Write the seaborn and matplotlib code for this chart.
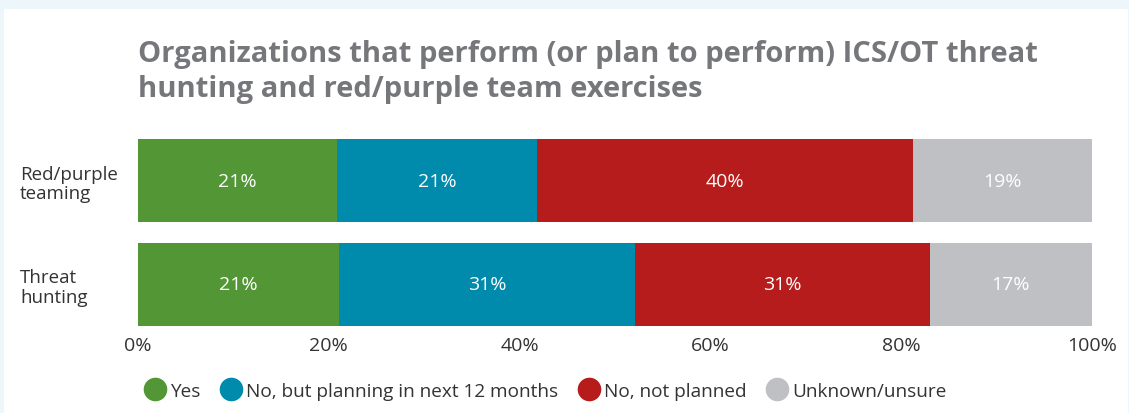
import numpy as np
import pandas as pd
import matplotlib
matplotlib.use('Agg')
import matplotlib.pyplot as plt
from matplotlib.patches import Rectangle
from matplotlib.lines import Line2D
import seaborn as sns

# Data (segment widths in %, printed labels)
categories = ['Red/purple\nteaming', 'Threat\nhunting']
responses = ['Yes', 'No, but planning in next 12 months', 'No, not planned', 'Unknown/unsure']
yes = [20.9, 21.1]
planning = [20.9, 31.0]
not_planned = [39.4, 30.9]
unknown = [18.8, 17.0]
labels = [['21%', '21%', '40%', '19%'],
          ['21%', '31%', '31%', '17%']]
colors = ['#529636', '#008aab', '#b71c1c', '#bec0c4']
x_ticks = [0, 20, 40, 60, 80, 100]

sns.set_theme(style='white')
plt.rcParams['font.family'] = ['Open Sans', 'DejaVu Sans']

df = pd.DataFrame({'category': categories, 'Yes': yes,
                   'No, but planning in next 12 months': planning,
                   'No, not planned': not_planned,
                   'Unknown/unsure': unknown})
cum = df[responses].cumsum(axis=1)

fig = plt.figure(figsize=(11.29, 4.14), dpi=100)
fig.patch.set_facecolor('#edf6fb')
fig.patches.append(Rectangle((4 / 1129, 0), 1124 / 1129, 404 / 414,
                             transform=fig.transFigure, facecolor='white',
                             edgecolor='none', zorder=-10))
ax = fig.add_axes([138 / 1129, 1 - 327 / 414, 954 / 1129, 187 / 414])
ax.set_facecolor('white')
ax.set_zorder(5)

# Stacked bars: draw cumulative totals from the largest down
for resp, col in reversed(list(zip(responses, colors))):
    sns.barplot(x=cum[resp], y=df['category'], color=col, orient='h',
                width=0.8, ax=ax, saturation=1, linewidth=0, zorder=2)

# Segment labels
for i, row in cum.iterrows():
    left = 0
    for j, resp in enumerate(responses):
        right = row[resp]
        ax.text((left + right) / 2, i, labels[i][j], ha='center', va='center',
                color='white', fontsize=14, zorder=5)
        left = right

ax.set_xlim(0, 100)
ax.set_ylim(1.4, -0.4)
ax.set_xticks(x_ticks)
ax.set_xticklabels([f'{t}%' for t in x_ticks], fontsize=14, color='#333333')
ax.set_yticks([0, 1])
ax.set_yticklabels(categories, fontsize=13.5, color='#333333', ha='left',
                   linespacing=1.1)
ax.tick_params(axis='y', length=0, pad=85)
ax.tick_params(axis='x', length=0, pad=7)
ax.set_xlabel('')
ax.set_ylabel('')
sns.despine(ax=ax, left=True, bottom=True)

fig.text(138 / 1129, 1 - 72 / 414,
         'Organizations that perform (or plan to perform) ICS/OT threat\nhunting and red/purple team exercises',
         fontsize=21, fontweight='bold', color='#76777b', ha='left', va='center',
         linespacing=1.3)

handles = [Line2D([0], [0], marker='o', linestyle='', markersize=17,
                  markerfacecolor=c, markeredgecolor='none') for c in colors]
fig.legend(handles, responses, loc='center', bbox_to_anchor=(0.483, 1 - 392 / 414),
           ncol=4, frameon=False, fontsize=13.7, handlelength=1.2,
           handletextpad=0.2, columnspacing=1.0, labelcolor='#333333')

fig.savefig('out.png', dpi=100, facecolor=fig.get_facecolor())
